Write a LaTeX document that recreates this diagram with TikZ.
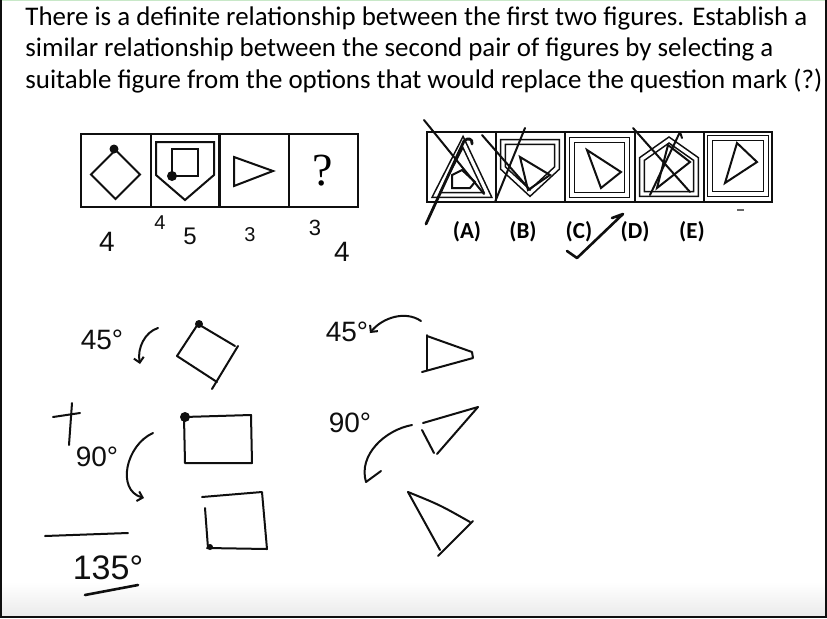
\documentclass[tikz,border=0pt]{standalone}
\usepackage{fontspec}
\setmainfont{Carlito}
\newfontfamily\handfont{Liberation Sans}
\newfontfamily\qfont{Liberation Serif}
\usetikzlibrary{arrows.meta}
\definecolor{inkblack}{RGB}{15,15,15}
\definecolor{topline}{RGB}{200,232,200}
\tikzset{
  cell/.style   ={draw=inkblack, line width=1.4pt},
  fig/.style    ={draw=inkblack, line width=1pt, line join=miter},
  dbl/.style    ={draw=inkblack, line width=0.8pt, double=white, double distance=1.6pt},
  hand/.style   ={draw=inkblack, line width=1pt, line cap=round, line join=round},
  harr/.style   ={hand, -{Straight Barb[length=2.5pt,width=5pt]}},
  handtxt/.style={font=\handfont\fontsize{14}{14}\selectfont, inner sep=0pt, text=inkblack},
  optlbl/.style ={font=\bfseries\fontsize{11.5}{11.5}\selectfont, inner sep=0pt},
  qtxt/.style   ={font=\fontsize{13.45}{15.8}\selectfont, inner sep=0pt, anchor=base west},
}
\begin{document}
\begin{tikzpicture}[x=0.5pt,y=-0.5pt]
\useasboundingbox (0,0) rectangle (827,618);
% frame
\fill[white] (0,0) rectangle (827,618);
\shade[top color=white,bottom color=black!8] (1,582) rectangle (826,616);
\draw[topline, line width=0.8pt] (0,0.5) -- (827,0.5);
\draw[inkblack, line width=1pt] (1,0) -- (1,616.5) -- (826,616.5) -- (826,0);

% question text
\node[qtxt] (line1) at (25,25)   {There is a definite relationship between the first two figures. Establish a};
\node[qtxt] (line2) at (25,56.7) {similar relationship between the second pair of figures by selecting a};
\node[qtxt] (line3) at (25,88.3) {suitable figure from the options that would replace the question mark (?)};

% problem row
\draw[cell] (81,134) rectangle (358,207);
\foreach \x in {151,219.5,289}
  \draw[cell] (\x,134) -- (\x,207);
\draw[fig] (115.5,150) -- (140,174.5) -- (115.5,199) -- (91,174.5) -- cycle;
\fill[inkblack] (114,149) circle[radius=4.5];
\draw[fig] (156,142) -- (214,142) -- (214,175) -- (185,200) -- (156,175) -- cycle;
\draw[fig] (172,149) rectangle (198,176);
\fill[inkblack] (172,176) circle[radius=5];
\draw[fig] (234,157) -- (273,171) -- (234,186) -- cycle;
\node[font=\qfont\fontsize{23}{23}\selectfont, inner sep=0pt] (qmark) at (323,171) {?};

% counts under the problem row
\node[handtxt] (n1)  at (107,242) {4};
\node[handtxt, font=\handfont\fontsize{10}{10}\selectfont] (n2a) at (160,223) {4};
\node[handtxt, font=\handfont\fontsize{12}{12}\selectfont] (n2b) at (190,236) {5};
\node[handtxt, font=\handfont\fontsize{10}{10}\selectfont] (n3)  at (250,235) {3};
\node[handtxt, font=\handfont\fontsize{11}{11}\selectfont] (n4a) at (315,228) {3};
\node[handtxt] (n4b) at (342,252) {4};

% option row
\draw[cell] (427,132) rectangle (772,202);
\foreach \x in {496,565,635,704}
  \draw[cell] (\x,132) -- (\x,202);
% (A)
\draw[dbl] (463,142) -- (488,195) -- (436,195) -- cycle;
\draw[fig] (452,175) -- (462,170) -- (475,182) -- (470,188) -- (452,188) -- cycle;
% (B)
\draw[dbl] (503,142) -- (557,142) -- (557,168) -- (530,193) -- (503,168) -- cycle;
\draw[fig] (520,157) -- (550,175) -- (528,190) -- cycle;
% (C)
\draw[dbl] (572,140) rectangle (627,195);
\draw[fig] (587,150) -- (621,172) -- (601,188) -- cycle;
% (D)
\draw[dbl] (642,194) -- (696,194) -- (696,159) -- (669,140) -- (642,159) -- cycle;
\draw[fig] (668,145) -- (690,162) -- (657,188) -- cycle;
% (E)
\draw[dbl] (710,138) rectangle (766,194);
\draw[fig] (737,143) -- (757,162) -- (725,183) -- cycle;

\node[optlbl] (optA) at (467,232) {(A)};
\node[optlbl] (optB) at (523,232) {(B)};
\node[optlbl] (optC) at (579,232) {(C)};
\node[optlbl] (optD) at (635,232) {(D)};
\node[optlbl] (optE) at (692,232) {(E)};

% crossing out and tick
\draw[hand] (424,120) -- (484,194);
\draw[hand, line width=1.4pt] (426,224) -- (464,141) .. controls (468,137) and (473,139) .. (472,144);
\draw[hand] (482,135) -- (530,190);
\draw[hand] (495,202) -- (525,128);
\draw[hand] (633,128) -- (690,192);
\draw[hand] (650,195) -- (680,132) -- (682,138);
\draw[hand, line width=1.3pt] (567,251) -- (577,258) -- (623,214) -- (612,218);
\draw[black!60, line width=1pt] (737,210) -- (744,210);

% working: first pair
\node[handtxt] (degA) at (102,340) {45°};
\draw[harr] (158,328) .. controls (145,332) and (137,348) .. (140,364);
\draw[hand] (198,324) -- (235,346);
\draw[hand] (238,346) -- (212,389);
\draw[hand] (177,356) -- (217,382);
\draw[hand] (198,324) -- (177,356);
\fill[inkblack] (199,324) circle[radius=4];

\draw[hand] (53,417) -- (80,413);
\draw[hand] (72,403) -- (69,445);
\node[handtxt] (degB) at (97,457) {90°};
\draw[harr] (153,433) .. controls (126,445) and (116,490) .. (144,498);
\draw[hand] (184,417) -- (251,415) -- (252,463) -- (185,463) -- cycle;
\fill[inkblack] (185,417) circle[radius=5];

\draw[hand] (45,536) -- (128,533);
\node[handtxt, font=\handfont\fontsize{17}{17}\selectfont] (degC) at (108,568) {135°};
\draw[hand, line width=1.3pt] (85,595) -- (138,585);
\draw[hand] (202,497) -- (262,492) -- (267,549) -- (207,548);
\draw[hand] (208,548) -- (205,508);
\fill[inkblack] (210,547) circle[radius=3];

% working: second pair
\node[handtxt] (degD) at (347,332) {45°};
\draw[harr] (421,321) .. controls (405,310) and (382,318) .. (370,333);
\draw[hand] (427,335) -- (427,370);
\draw[hand] (427,336) -- (472,352) -- (473,358) -- (422,372);

\node[handtxt] (degE) at (350,423) {90°};
\draw[hand] (412,425) .. controls (385,430) and (358,455) .. (366,482) -- (381,471);
\draw[hand] (423,423) -- (478,407) -- (437,454);
\draw[hand] (422,430) -- (434,453);

\draw[hand] (408,492) -- (440,550);
\draw[hand] (408,492) .. controls (440,505) .. (470,522);
\draw[hand] (473,521) -- (438,556);
\end{tikzpicture}
\end{document}
